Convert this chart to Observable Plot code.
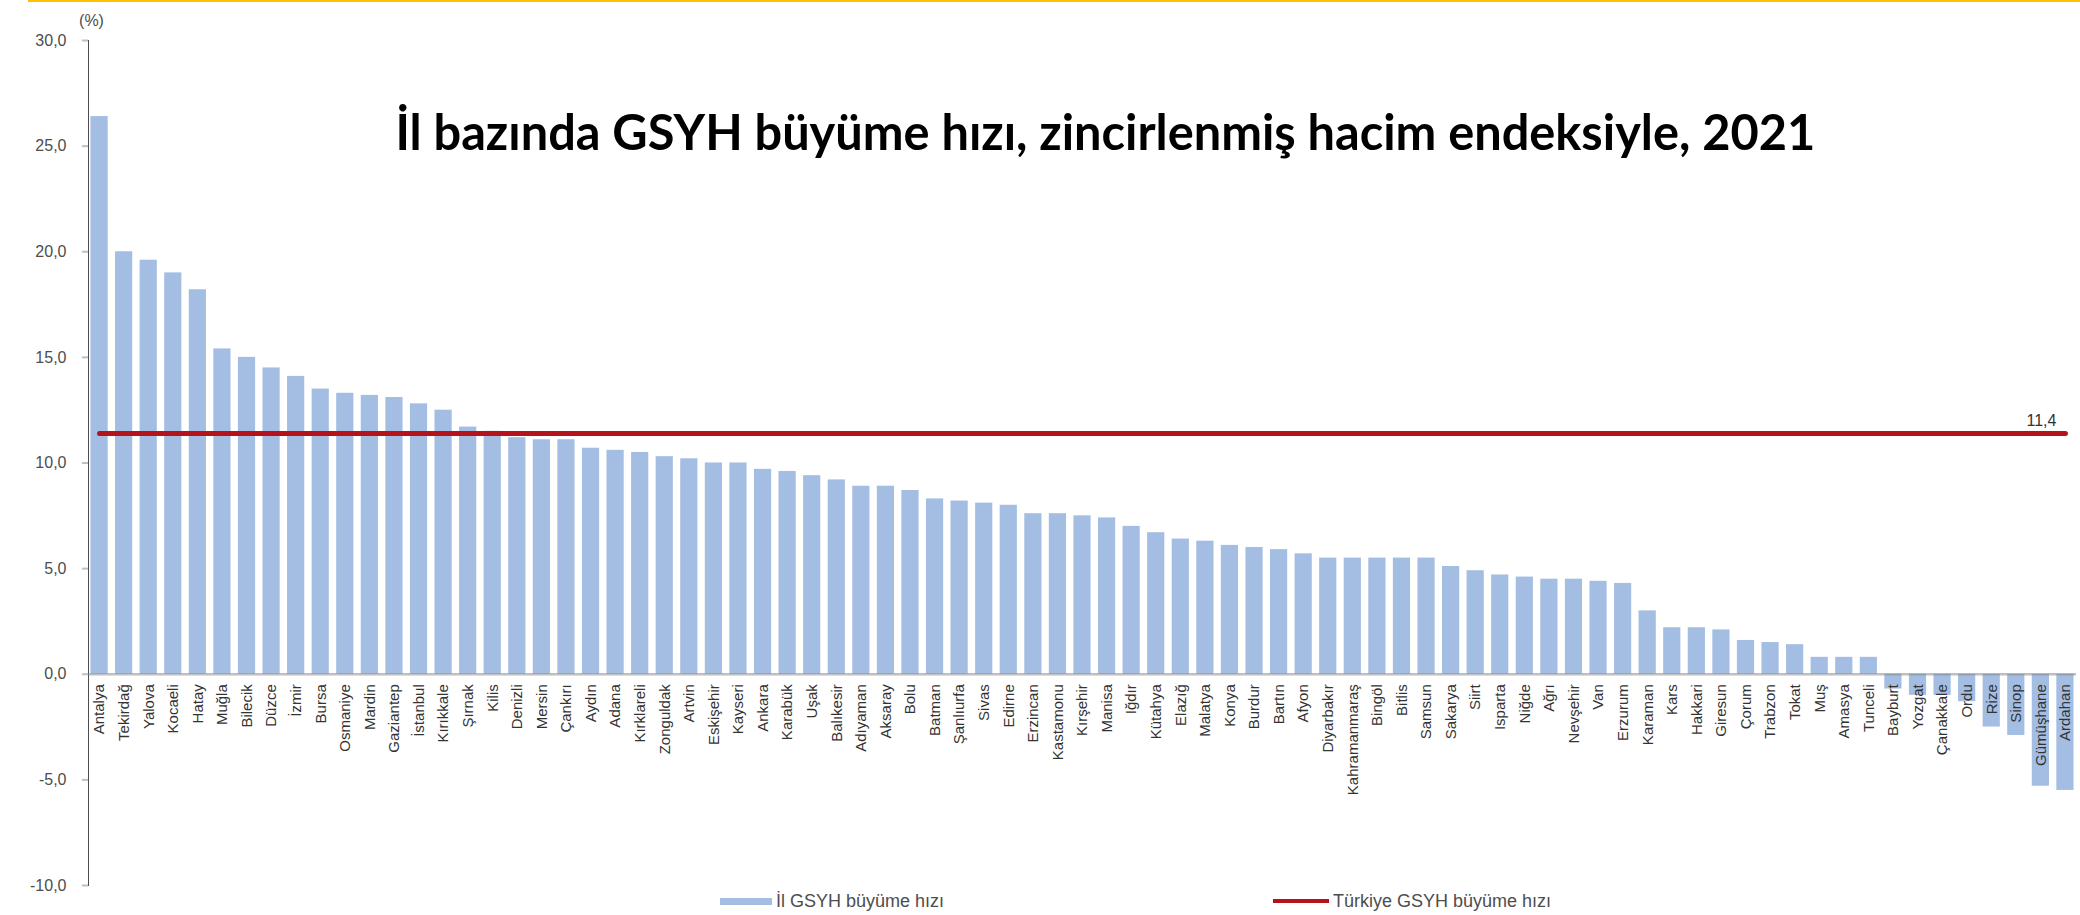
<!DOCTYPE html>
<html><head><meta charset="utf-8">
<script src="https://cdn.jsdelivr.net/npm/d3@7"></script>
<script src="https://cdn.jsdelivr.net/npm/@observablehq/plot@0.6"></script>
<style>
html,body{margin:0;padding:0;background:#fff;}
#wrap{position:relative;width:2080px;height:915px;overflow:hidden;}
#chart{position:absolute;left:0;top:0;}
#topline{position:absolute;left:28px;right:0;top:0;height:2px;background:#ffc000;}
#legend{position:absolute;top:889px;left:0;width:2080px;height:24px;font-family:"Liberation Sans",Arial,sans-serif;font-size:18px;color:#4d4d4d;}
#legend .item{position:absolute;top:0;height:24px;display:flex;align-items:center;white-space:nowrap;}
#legend .bar{flex:0 0 52px;height:7px;background:#a4bee3;margin-right:4px;}
#legend .line{flex:0 0 56px;height:4px;background:#b5121b;margin-right:4px;}
</style></head><body>
<div id="wrap">
  <div id="chart"></div>
  <div id="topline"></div>
  <div id="legend"></div>
</div>
<script>
const provinces = ["Antalya","Tekirdağ","Yalova","Kocaeli","Hatay","Muğla","Bilecik","Düzce","İzmir","Bursa","Osmaniye","Mardin","Gaziantep","İstanbul","Kırıkkale","Şırnak","Kilis","Denizli","Mersin","Çankırı","Aydın","Adana","Kırklareli","Zonguldak","Artvin","Eskişehir","Kayseri","Ankara","Karabük","Uşak","Balıkesir","Adıyaman","Aksaray","Bolu","Batman","Şanlıurfa","Sivas","Edirne","Erzincan","Kastamonu","Kırşehir","Manisa","Iğdır","Kütahya","Elazığ","Malatya","Konya","Burdur","Bartın","Afyon","Diyarbakır","Kahramanmaraş","Bingöl","Bitlis","Samsun","Sakarya","Siirt","Isparta","Niğde","Ağrı","Nevşehir","Van","Erzurum","Karaman","Kars","Hakkari","Giresun","Çorum","Trabzon","Tokat","Muş","Amasya","Tunceli","Bayburt","Yozgat","Çanakkale","Ordu","Rize","Sinop","Gümüşhane","Ardahan"];
const growth = [26.4,20.0,19.6,19.0,18.2,15.4,15.0,14.5,14.1,13.5,
  13.3,13.2,13.1,12.8,12.5,11.7,11.5,11.2,11.1,11.1,
  10.7,10.6,10.5,10.3,10.2,10.0,10.0,9.7,9.6,9.4,
  9.2,8.9,8.9,8.7,8.3,8.2,8.1,8.0,7.6,7.6,
  7.5,7.4,7.0,6.7,6.4,6.3,6.1,6.0,5.9,5.7,
  5.5,5.5,5.5,5.5,5.5,5.1,4.9,4.7,4.6,4.5,
  4.5,4.4,4.3,3.0,2.2,2.2,2.1,1.6,1.5,1.4,
  0.8,0.8,0.8,-0.7,-1.0,-1.0,-1.3,-2.5,-2.9,-5.3,
  -5.5];
const turkeyGrowth = 11.4;
const yTicks = [-10,-5,0,5,10,15,20,25,30];
const titleText = "İl bazında GSYH büyüme hızı, zincirlenmiş hacim endeksiyle, 2021";
const unitLabel = "(%)";
const seriesNames = ["İl GSYH büyüme hızı","Türkiye GSYH büyüme hızı"];

const fmt = d => d.toFixed(1).replace(".", ",");
const table = provinces.map((p, i) => ({province: p, value: growth[i]}));
const national = [provinces[0], provinces[provinces.length - 1]].map(p => ({province: p, value: turkeyGrowth}));

const chart = Plot.plot({
  width: 2080,
  height: 915,
  marginLeft: 88,
  marginRight: 4,
  marginTop: 40,
  marginBottom: 30,
  style: {fontFamily: "'Liberation Sans', Arial, sans-serif", fontSize: "16px", color: "#4d4d4d", background: "transparent"},
  x: {domain: provinces, paddingInner: 0.3, paddingOuter: 0.1, axis: null},
  y: {domain: [-10, 30], ticks: yTicks, tickFormat: fmt, tickSize: 6, tickPadding: 16, line: true, label: null},
  marks: [
    Plot.barY(table, {x: "province", y: "value", fill: "#a4bee3"}),
    Plot.ruleY([0], {stroke: "#808080", strokeOpacity: 0.5, strokeWidth: 2.5}),
    Plot.text(table, {x: "province", y: () => 0, text: "province", rotate: -90, textAnchor: "end", dy: 10, fontSize: 15, fill: "#333"}),
    Plot.line(national, {x: "province", y: "value", stroke: "#b5121b", strokeWidth: 5}),
    Plot.text(national.slice(1), {x: "province", y: "value", text: d => fmt(d.value), textAnchor: "end", dy: -13, dx: -9, fontSize: 16, fill: "#333"}),
    Plot.text([unitLabel], {frameAnchor: "top-left", dx: 3, dy: -26, textAnchor: "middle", fontSize: 16, fill: "#4d4d4d"}),
    Plot.text([titleText], {frameAnchor: "top-left", dx: 307, dy: 109, lineAnchor: "bottom", textAnchor: "start", fontSize: 44, fontWeight: 700, fontFamily: "Lato, 'Open Sans', sans-serif", fill: "#000"})
  ]
});
document.getElementById("chart").appendChild(chart);

// axis styling: light gray lines
d3.select(chart).selectAll('[aria-label^="y-axis"] line, [aria-label^="y-axis"] path').attr("stroke", "#bfbfbf").attr("stroke-width", 2);

// fit title width to reference span
const tnode = Array.from(chart.querySelectorAll("text")).find(t => t.textContent === titleText);
if (tnode) {
  const w = tnode.getComputedTextLength();
  const target = 1420;
  if (w > 0) tnode.setAttribute("font-size", (44 * target / w).toFixed(2));
}

// legend
const legend = d3.select("#legend");
const it1 = legend.append("div").attr("class", "item").style("left", "720px");
it1.append("div").attr("class", "bar");
it1.append("span").text(seriesNames[0]);
const it2 = legend.append("div").attr("class", "item").style("left", "1273px");
it2.append("div").attr("class", "line");
it2.append("span").text(seriesNames[1]);
</script>
</body></html>
